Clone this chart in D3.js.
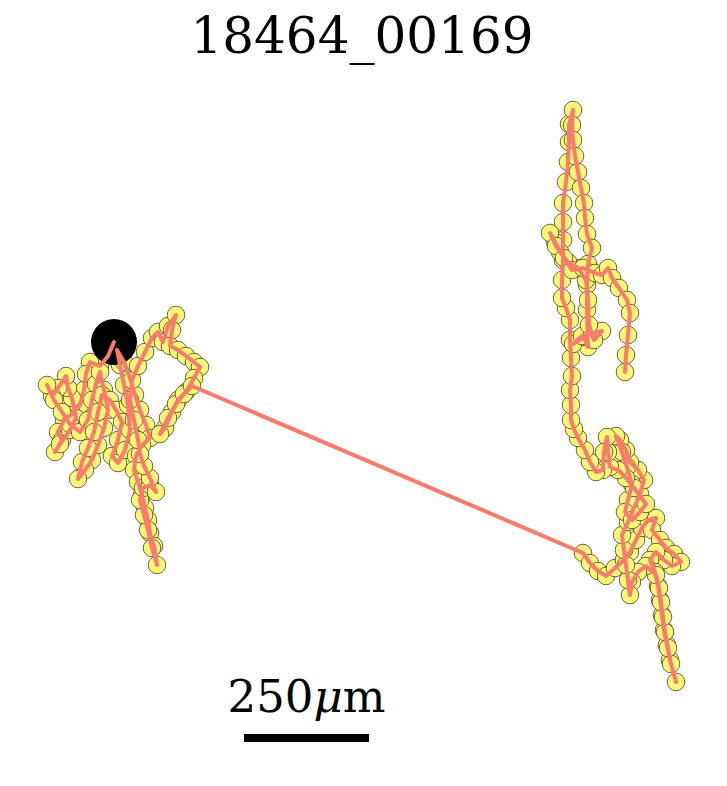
<!DOCTYPE html>
<html>
<head>
<meta charset="utf-8">
<title>18464_00169</title>
<script src="https://cdn.jsdelivr.net/npm/d3@7/dist/d3.min.js"></script>
<style>
    body { margin: 0; background: white; }
    svg { display: block; }
</style>
</head>
<body>
<div id="chart"></div>
<script>
    // track positions in micrometres (x right, y down), first point = start
    var xs = [0,-12,-28,-48,-56,-60,-68,-84,-100,-112,-104,-118,-108,-88,-76,-84,-92,-96,-112,-124,
              -134,-120,-104,-88,-68,-52,-44,-36,-28,-20,-12,-20,-32,-44,-58,-72,-64,-52,-40,-32,
              -24,-8,4,16,8,-4,8,22,32,28,20,12,6,20,32,42,52,64,72,56,
              44,40,48,56,62,68,72,80,86,76,68,60,52,58,72,84,72,60,52,48,
              40,32,36,48,62,76,88,98,108,124,116,112,128,144,160,172,160,144,128,116,
              102,92,108,124,140,156,
              938,952,968,984,1002,1020,1032,1044,1056,1068,1084,1076,1092,1104,1120,1134,1116,1100,1084,1072,
              1082,1088,1092,1096,1100,1106,1112,1124,1114,1108,1102,1098,1094,1090,1084,1064,1048,1036,1032,1028,
              1024,1020,1016,1028,1040,1052,1060,1048,1032,1024,1012,1004,1016,1026,1036,1028,1022,1036,1052,1064,
              1040,1024,1008,992,988,986,980,978,964,952,942,928,920,
              914,914,912,916,914,912,912,904,896,896,898,898,898,898,904,908,910,910,918,916,
              918,922,928,934,940,942,946,956,948,946,946,948,940,918,936,956,976,960,950,948,
              944,928,908,892,882,872,884,900,916,938,962,976,988,996,1010,1026,1032,1028,1024,1022];
    var ys = [0,28,48,40,64,96,126,144,156,180,196,220,204,176,152,112,92,68,92,108,
              86,116,140,164,180,156,116,84,60,96,136,172,206,236,256,274,240,212,180,140,
              106,116,136,160,196,228,242,216,176,126,86,46,16,40,72,106,136,166,192,206,
              228,256,280,306,332,356,382,408,446,412,376,346,316,292,286,300,272,248,224,196,
              156,116,76,48,20,-8,-20,0,-32,-54,-24,8,16,28,40,50,72,100,116,140,
              172,184,152,124,104,88,
              422,442,458,468,452,436,420,396,372,356,352,376,396,412,424,440,448,436,420,436,
              460,488,516,546,576,606,636,680,644,612,580,550,520,492,466,448,460,480,506,476,
              446,416,386,360,332,304,276,256,240,216,196,188,220,250,284,316,340,356,340,324,
              292,272,256,250,220,190,220,256,260,240,216,192,174,
              156,126,96,68,32,-4,-44,-68,-88,-124,-164,-204,-240,-278,-320,-360,-400,-436,-464,-434,
              -404,-372,-340,-308,-278,-248,-216,-188,-156,-114,-64,10,-10,4,-12,-16,-22,-4,-34,-84,
              -124,-148,-160,-180,-200,-218,-192,-168,-144,-148,-138,-134,-148,-128,-108,-84,-58,-14,26,60];

    var title = "18464_00169";
    var scale_bar_um = 250;
    var scale_bar_start = [260, 792];   // micrometres, left end of the bar

    var width = 727, height = 786;
    var px_per_um = 0.5;
    var origin = [114, 342];

    var points = xs.map(function(x, i) { return [x, ys[i]]; });

    var x = d3.scaleLinear().domain([0, 1]).range([origin[0], origin[0] + px_per_um]);
    var y = d3.scaleLinear().domain([0, 1]).range([origin[1], origin[1] + px_per_um]);

    var svg = d3.select("#chart").append("svg")
        .attr("width", width)
        .attr("height", height);

    svg.append("text")
        .attr("x", 362)
        .attr("y", 53)
        .attr("text-anchor", "middle")
        .attr("font-family", "DejaVu Serif")
        .attr("font-size", 50)
        .text(title);

    svg.append("g")
        .selectAll("circle")
        .data(points)
        .enter().append("circle")
        .attr("cx", function(d) { return x(d[0]); })
        .attr("cy", function(d) { return y(d[1]); })
        .attr("r", 8.8)
        .attr("fill", "#fcf678")
        .attr("stroke", "#5a5630")
        .attr("stroke-width", 0.9);

    // start marker
    svg.append("circle")
        .attr("cx", x(xs[0]))
        .attr("cy", y(ys[0]))
        .attr("r", 23)
        .attr("fill", "black");

    var line = d3.line()
        .x(function(d) { return x(d[0]); })
        .y(function(d) { return y(d[1]); });

    svg.append("path")
        .datum(points)
        .attr("d", line)
        .attr("fill", "none")
        .attr("stroke", "#fa7a6c")
        .attr("stroke-width", 4)
        .attr("stroke-linejoin", "round")
        .attr("stroke-linecap", "round");

    // scale bar
    var bx1 = x(scale_bar_start[0]), bx2 = x(scale_bar_start[0] + scale_bar_um);
    var by = y(scale_bar_start[1]);
    svg.append("line")
        .attr("x1", bx1).attr("x2", bx2)
        .attr("y1", by).attr("y2", by)
        .attr("stroke", "black")
        .attr("stroke-width", 8);

    var lab = svg.append("text")
        .attr("x", (bx1 + bx2) / 2)
        .attr("y", by - 26)
        .attr("text-anchor", "middle")
        .attr("font-family", "DejaVu Serif")
        .attr("font-size", 45);
    lab.append("tspan").text(scale_bar_um);
    lab.append("tspan").attr("font-style", "italic").text("\u03bc");
    lab.append("tspan").text("m");
</script>
</body>
</html>
